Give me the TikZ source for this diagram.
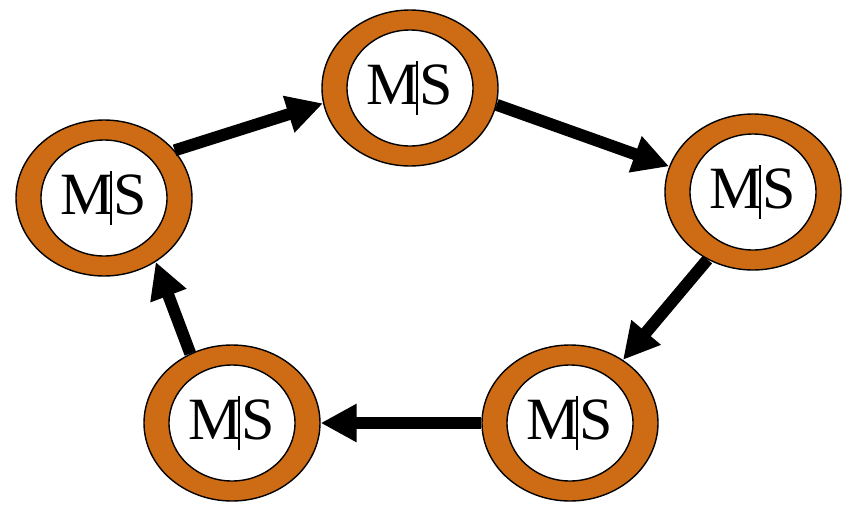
\documentclass[tikz,border=0pt]{standalone}
\usepackage{fontspec}
\setmainfont{Liberation Serif}
\usepackage{tikz}
\usetikzlibrary{shapes.geometric,arrows.meta}
\definecolor{RingOrange}{RGB}{205,108,20}

\begin{document}
\begin{tikzpicture}[x=1pt,y=-1pt,
    ms/.style={ellipse, draw=black, line width=1.4pt, fill=RingOrange,
        minimum width=176pt, minimum height=156pt, inner sep=0pt,
        font=\fontsize{60}{72}\selectfont,
        path picture={
            \draw[line width=1.4pt, fill=white] (path picture bounding box.center) ellipse (63pt and 58pt);
            \draw[line width=1.5pt] ([xshift=7pt,yshift=27pt]path picture bounding box.center) -- ([xshift=7pt,yshift=-27pt]path picture bounding box.center);
        }},
    link/.style={line width=12pt, -{Triangle[length=36pt,width=36pt]}}]
    \useasboundingbox (0,0) rectangle (857,504);

    \node[ms] (left) at (104,198) {\raisebox{6pt}{MS}};
    \node[ms] (top) at (410,88) {\raisebox{6pt}{MS}};
    \node[ms] (right) at (753,192) {\raisebox{6pt}{MS}};
    \node[ms] (botright) at (570,423) {\raisebox{6pt}{MS}};
    \node[ms] (botleft) at (232,423) {\raisebox{6pt}{MS}};

    \draw[link] (left.34) -- (top.190);
    \draw[link] (top.349) -- (right.163);
    \draw[link] (right.236) -- (botright.50);
    \draw[link] (botright.180) -- (botleft.0);
    \draw[link] (botleft.121) -- (left.309);
\end{tikzpicture}
\end{document}
